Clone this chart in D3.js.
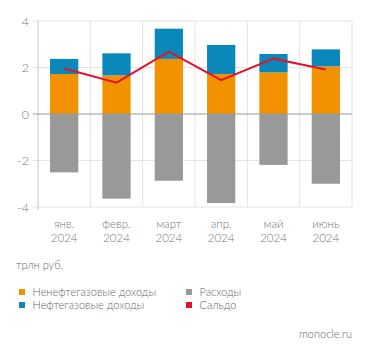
<!DOCTYPE html>
<html><head><meta charset="utf-8">
<script src="https://cdn.jsdelivr.net/npm/d3@7"></script>
<style>
html,body{margin:0;padding:0;background:#fff;}
svg{display:block;font-family:Lato,"Open Sans",sans-serif;}
</style></head>
<body>
<svg id="c" width="371" height="356"></svg>
<script>
const months = ["янв.","февр.","март","апр.","май","июнь"];
const years = ["2024","2024","2024","2024","2024","2024"];
const nonOil = [1.72, 1.66, 2.37, 1.72, 1.79, 2.05];
const oilGas = [0.65, 0.95, 1.30, 1.25, 0.79, 0.73];
const expenses = [-2.51, -3.64, -2.87, -3.83, -2.19, -3.00];
const balance = [1.96, 1.35, 2.68, 1.46, 2.38, 1.91];
const yTicks = [4, 2, 0, -2, -4];
const unitLabel = "трлн руб.";
const legendItems = [
  {name:"Ненефтегазовые доходы", color:"#F39200"},
  {name:"Нефтегазовые доходы", color:"#0A88B9"},
  {name:"Расходы", color:"#999999"},
  {name:"Сальдо", color:"#E2132B"}
];
const source = "monocle.ru";

const svg = d3.select("#c");
const L=38, R=352, T=21, B=207;
const x = d3.scaleBand().domain(months).range([L,R]).paddingInner(0.46).paddingOuter(0.23);
const xb = d3.scaleBand().domain(months).range([L,R]);
const y = d3.scaleLinear().domain([-4,4]).range([B,T]);

// grid
const g = svg.append("g");
g.selectAll(".hg").data(yTicks.filter(d=>d!==0)).join("line")
  .attr("x1",L-5).attr("x2",R).attr("y1",d=>y(d)).attr("y2",d=>y(d))
  .attr("stroke","#e3e3e3").attr("stroke-width",1);
g.selectAll(".vg").data(months.slice(1)).join("line")
  .attr("x1",d=>xb(d)).attr("x2",d=>xb(d)).attr("y1",T).attr("y2",B)
  .attr("stroke","#e3e3e3");
g.append("line").attr("x1",R).attr("x2",R).attr("y1",T).attr("y2",B).attr("stroke","#e3e3e3");
g.append("line").attr("x1",L).attr("x2",L).attr("y1",T).attr("y2",B+3).attr("stroke","#c8c8c8");

// bars
const bw = x.bandwidth();
svg.append("g").selectAll("rect").data(months).join("rect")
  .attr("x",d=>x(d)).attr("width",bw)
  .attr("y",(d,i)=>y(nonOil[i])).attr("height",(d,i)=>y(0)-y(nonOil[i]))
  .attr("fill",legendItems[0].color);
svg.append("g").selectAll("rect").data(months).join("rect")
  .attr("x",d=>x(d)).attr("width",bw)
  .attr("y",(d,i)=>y(nonOil[i]+oilGas[i])).attr("height",(d,i)=>y(nonOil[i])-y(nonOil[i]+oilGas[i]))
  .attr("fill",legendItems[1].color);
svg.append("g").selectAll("rect").data(months).join("rect")
  .attr("x",d=>x(d)).attr("width",bw)
  .attr("y",y(0)).attr("height",(d,i)=>y(expenses[i])-y(0))
  .attr("fill",legendItems[2].color);

// zero line
svg.append("line").attr("x1",L-5).attr("x2",R).attr("y1",y(0)).attr("y2",y(0))
  .attr("stroke","#999").attr("stroke-width",1);

// balance line
const line = d3.line().x((d,i)=>x(months[i])+bw/2).y(d=>y(d));
svg.append("path").datum(balance).attr("d",line)
  .attr("fill","none").attr("stroke",legendItems[3].color).attr("stroke-width",2);

// y labels
svg.append("g").selectAll("text").data(yTicks).join("text")
  .attr("x",29).attr("y",d=>y(d)+4.5).attr("text-anchor","end")
  .attr("font-size",12.5).attr("font-weight",300).attr("fill","#777").text(d=>d);

// x labels
const xg = svg.append("g");
xg.selectAll(".m").data(months).join("text")
  .attr("text-anchor","middle").attr("font-size",11.5).attr("font-weight",300).attr("fill","#777")
  .attr("x",d=>xb(d)+xb.bandwidth()/2).attr("y",227.5).text(d=>d);
xg.selectAll(".yr").data(months).join("text")
  .attr("text-anchor","middle").attr("font-size",11.5).attr("font-weight",300).attr("fill","#777")
  .attr("x",d=>xb(d)+xb.bandwidth()/2).attr("y",241.5).text((d,i)=>years[i]);

// unit
svg.append("text").attr("x",16).attr("y",269).attr("font-size",11).attr("font-weight",300).attr("fill","#666").text(unitLabel);

// legend
const lx=[19,186], ly=[292,305];
const lg = svg.append("g").selectAll("g").data(legendItems).join("g")
  .attr("transform",(d,i)=>`translate(${lx[Math.floor(i/2)]},${ly[i%2]})`);
lg.append("rect").attr("x",0).attr("y",-3).attr("width",6).attr("height",6).attr("fill",d=>d.color);
lg.append("text").attr("x",13.5).attr("y",4).attr("font-size",11).attr("font-weight",300).attr("fill","#666").text(d=>d.name);

svg.append("text").attr("x",352).attr("y",338).attr("text-anchor","end")
  .attr("font-size",11).attr("font-weight",300).attr("fill","#666").text(source);
</script>
</body></html>
